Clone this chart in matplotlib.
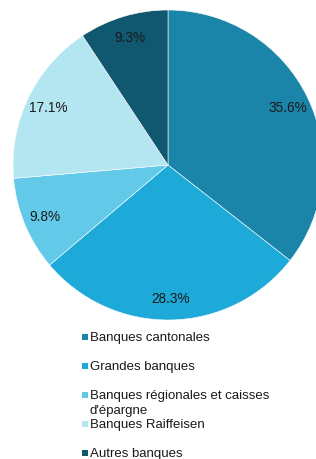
import matplotlib.pyplot as plt
from matplotlib.patches import Rectangle

# Données
categories = ["Banques cantonales", "Grandes banques",
              "Banques régionales et caisses\nd'épargne",
              "Banques Raiffeisen", "Autres banques"]
parts = [35.6, 28.3, 9.8, 17.1, 9.3]
couleurs = ["#1a85a8", "#1eaad9", "#62c9e8", "#b4e6f2", "#10586f"]

plt.rcParams['font.family'] = ['Liberation Sans', 'DejaVu Sans']

fig = plt.figure(figsize=(3.16, 4.60), dpi=100)
ax = fig.add_axes([13 / 316, 1 - 321 / 460, 310 / 316, 310 / 460])

wedges, texts, autotexts = ax.pie(
    parts, colors=couleurs, startangle=90, counterclock=False,
    autopct='%.1f%%', pctdistance=0.86, radius=1,
    wedgeprops=dict(edgecolor='white', linewidth=0.4),
    textprops=dict(fontsize=9.8, color='#1a1a1a'))
ax.set_xlim(-1, 1)
ax.set_ylim(-1, 1)
ax.set_aspect('equal')

# Légende manuelle (pas fixe, comme l'original)
y0 = 338
pas = 29
for i, (lab, c) in enumerate(zip(categories, couleurs)):
    y = y0 + i * pas
    fig.patches.append(Rectangle((82 / 316, 1 - (y + 3) / 460), 6 / 316, 6 / 460,
                                 transform=fig.transFigure, facecolor=c,
                                 edgecolor='none'))
    yt = y + 7.5 if '\n' in lab else y
    fig.text(90 / 316, 1 - yt / 460, lab, fontsize=9.5, color='#1a1a1a',
             va='center', ha='left', linespacing=1.3)

fig.savefig("out.png", dpi=100)
